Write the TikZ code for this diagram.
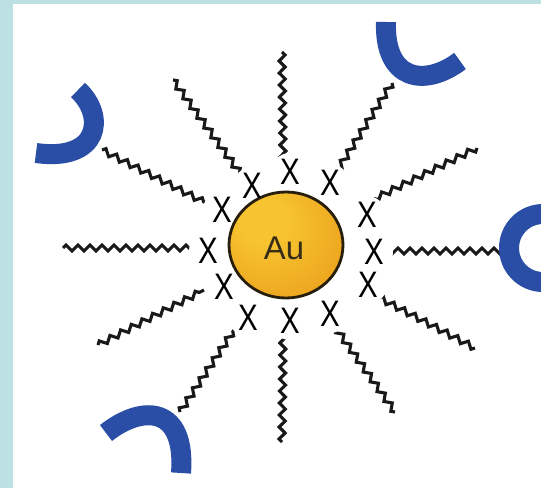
\documentclass[tikz,border=0pt]{standalone}
\usepackage{fontspec}
\setmainfont{Liberation Sans}
\usetikzlibrary{decorations.pathmorphing}

\definecolor{frame}{RGB}{189,224,227}
\definecolor{hookblue}{RGB}{42,77,166}
\definecolor{goldlight}{RGB}{247,196,48}
\definecolor{goldmid}{RGB}{236,164,30}
\definecolor{golddeep}{RGB}{216,132,22}
\definecolor{rim}{RGB}{40,30,12}
\definecolor{autext}{RGB}{55,44,24}

% gold particle: bright spot up and to the left
\pgfdeclareradialshading{goldball}{\pgfpoint{-12bp}{14bp}}{%
  color(0bp)=(goldlight); color(10bp)=(goldlight); color(34bp)=(goldmid); color(54bp)=(golddeep)}

\tikzset{
  chain/.style={line width=3.1bp, black!90, line join=miter,
    decorate, decoration={zigzag, segment length=12bp, amplitude=3bp}},
  hook/.style={line width=20bp, hookblue},
  xmark/.style={font=\fontsize{37}{37}\selectfont, inner sep=0pt, xscale=0.8},
  auname/.style={font=\fontsize{33}{33}\selectfont, text=autext, inner sep=0pt},
}

\begin{document}
\begin{tikzpicture}[x=1bp, y=-1bp]
  \useasboundingbox (0,0) rectangle (541,488);
  \clip (0,0) rectangle (541,488);
  \fill[white] (0,0) rectangle (541,488);
  \fill[frame] (0,0) rectangle (13,488);
  \fill[frame] (0,0) rectangle (541,4);

  % binding sites
  \coordinate (s1)  at (290,172);
  \coordinate (s2)  at (252,186);
  \coordinate (s3)  at (330,183);
  \coordinate (s4)  at (222,210);
  \coordinate (s5)  at (367,215);
  \coordinate (s6)  at (208,251);
  \coordinate (s7)  at (374,252);
  \coordinate (s8)  at (224,287);
  \coordinate (s9)  at (368,285);
  \coordinate (s10) at (248,318);
  \coordinate (s11) at (290,321);
  \coordinate (s12) at (330,314);

  % chain ends: outer (O) and inner (I)
  \coordinate (aO) at (282,52);   \coordinate (aI) at (283,160);
  \coordinate (bO) at (173,80);   \coordinate (bI) at (242,176);
  \coordinate (cO) at (392,83);   \coordinate (cI) at (334,176);
  \coordinate (dO) at (477,148);  \coordinate (dI) at (370,201);
  \coordinate (eO) at (503,251);  \coordinate (eI) at (380,251);
  \coordinate (fO) at (475,348);  \coordinate (fI) at (372,294);
  \coordinate (gO) at (395,412);  \coordinate (gI) at (333,324);
  \coordinate (hO) at (282,442);  \coordinate (hI) at (283,332);
  \coordinate (iO) at (180,412);  \coordinate (iI) at (234,330);
  \coordinate (jO) at (98,345);   \coordinate (jI) at (204,290);
  \coordinate (kO) at (63,248);   \coordinate (kI) at (196,248);
  \coordinate (lO) at (102,150);  \coordinate (lI) at (208,204);

  % alkyl chains
  \foreach \c in {a,b,c,d,e,f,g,h,i,j,k,l}
    \draw[chain] (\c O) -- (\c I);

  % receptor hooks at the chain ends
  \draw[hook] (78,90) .. controls (106,116) and (100,162) .. (36,153);
  \draw[hook] (386,22) .. controls (384,80) and (424,88) .. (460,61);
  \draw[hook] (543,248) ++(80:34) arc[start angle=80, end angle=280, radius=34];
  \draw[hook] (106,433) .. controls (143,404) and (186,406) .. (181,473);

  % white pads around the binding sites
  \foreach \k in {1,...,12}
    \fill[white] (s\k) circle (19);

  % gold core
  \shadedraw[shading=goldball, draw=rim, line width=2.8bp] (286,245) ellipse (57 and 53);
  \node[auname] (au) at (284,248) {Au};

  % binding site labels
  \foreach \k in {1,...,12}
    \node[xmark] (x\k) at (s\k) {X};
\end{tikzpicture}
\end{document}
